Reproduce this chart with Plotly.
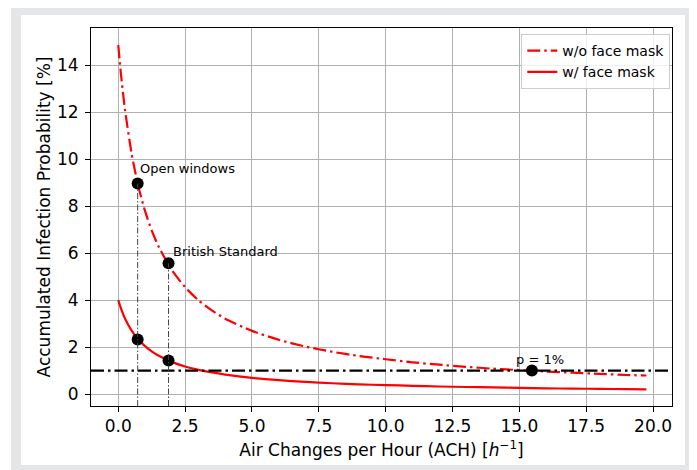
import plotly.graph_objects as go

# ---------------- data ----------------
ach = [0, 0.1, 0.25, 0.5, 0.75, 1, 1.25, 1.5, 2, 2.5, 3, 3.5, 4, 5, 6, 7, 8, 9,
       10, 11, 12, 13, 14, 15, 16, 17, 18, 19, 19.75]
p_without_mask = [14.86, 13.63, 12.12, 10.23, 8.85, 7.80, 6.97, 6.30, 5.28, 4.55, 3.99,
                  3.56, 3.21, 2.69, 2.31, 2.02, 1.80, 1.62, 1.48, 1.35, 1.25, 1.16,
                  1.08, 1.02, 0.96, 0.91, 0.86, 0.81, 0.79]
p_with_mask = [4.00, 3.65, 3.22, 2.70, 2.32, 2.04, 1.82, 1.64, 1.37, 1.17, 1.03, 0.92,
               0.83, 0.69, 0.59, 0.52, 0.46, 0.41, 0.38, 0.35, 0.32, 0.30, 0.28, 0.26,
               0.24, 0.23, 0.22, 0.21, 0.20]

scenario_names = ["Open windows", "British Standard"]
scenario_ach = [0.725, 1.88]
scenario_p_without = [8.97, 5.57]
scenario_p_with = [2.32, 1.43]

threshold_p = 1.0
threshold_ach = 15.47
threshold_label = "p = 1%"

x_ticks = [0, 2.5, 5, 7.5, 10, 12.5, 15, 17.5, 20]
y_ticks = [0, 2, 4, 6, 8, 10, 12, 14]
x_range = [-1.02, 20.71]
y_range = [-0.51, 15.59]

FONT = "DejaVu Sans"

fig = go.Figure()

# curves
fig.add_trace(go.Scatter(x=ach, y=p_without_mask, mode="lines", name="w/o face mask",
                         line=dict(color="red", width=2.2, dash="13px,4px,2.5px,4px",
                                   shape="spline", smoothing=0.6)))
fig.add_trace(go.Scatter(x=ach, y=p_with_mask, mode="lines", name="w/ face mask",
                         line=dict(color="red", width=2.2, shape="spline", smoothing=0.6)))

# threshold horizontal line (full width)
fig.add_shape(type="line", xref="paper", yref="y", x0=0, x1=1, y0=threshold_p, y1=threshold_p,
              line=dict(color="black", width=2.2, dash="13px,4px,2.5px,4px"), layer="above")

# vertical guide lines from the bottom axis to the upper points
for xa, ya in zip(scenario_ach, scenario_p_without):
    fig.add_shape(type="line", xref="x", yref="y", x0=xa, x1=xa, y0=y_range[0], y1=ya,
                  line=dict(color="#444444", width=1, dash="6px,2px,1.5px,2px"), layer="above")

# scenario points
fig.add_trace(go.Scatter(x=scenario_ach + scenario_ach + [threshold_ach],
                         y=scenario_p_without + scenario_p_with + [threshold_p],
                         mode="markers", showlegend=False,
                         marker=dict(color="black", size=12)))

# point labels
label_shifts = [(0, 15), (2, 12)]
for name, xa, ya, (dx, dy) in zip(scenario_names, scenario_ach, scenario_p_without, label_shifts):
    fig.add_annotation(x=xa, y=ya, xref="x", yref="y", text=name, showarrow=False,
                       xanchor="left", yanchor="middle", xshift=dx, yshift=dy,
                       font=dict(family=FONT, size=13, color="black"))
fig.add_annotation(x=threshold_ach, y=threshold_p, xref="x", yref="y", text=threshold_label,
                   showarrow=False, xanchor="left", yanchor="middle", xshift=-18, yshift=11,
                   font=dict(family=FONT, size=13, color="black"))

# grey frame around the figure
fig.add_shape(type="rect", xref="paper", yref="paper", x0=-0.1377, x1=1.08, y0=-0.25, y1=1.0582,
              fillcolor="#e5e6e8", line=dict(width=0), layer="below")
fig.add_shape(type="rect", xref="paper", yref="paper", x0=-0.1205, x1=1.0224, y0=-0.1561, y1=1.0344,
              fillcolor="white", line=dict(width=0), layer="below")

axis_common = dict(showline=True, mirror=True, linecolor="black", linewidth=1,
                   ticks="outside", ticklen=5, tickcolor="black", tickwidth=1,
                   showgrid=True, gridcolor="#b0b0b0", gridwidth=1, zeroline=False,
                   tickfont=dict(family=FONT, size=17, color="black"))

fig.update_xaxes(range=x_range, tickvals=x_ticks, tickformat=".1f",
                 title=dict(text="Air Changes per Hour (ACH) [<i>h</i><sup>−1</sup>]",
                            font=dict(family=FONT, size=17, color="black"), standoff=8),
                 **axis_common)
fig.update_yaxes(range=y_range, tickvals=y_ticks, ticklabelstandoff=3,
                 title=dict(text="Accumulated Infection Probability [%]",
                            font=dict(family=FONT, size=17, color="black"), standoff=2),
                 **axis_common)

# the page body adds an 8px offset, so margins are reduced by 8px on left/top
fig.update_layout(
    width=697, height=470,
    margin=dict(l=83, r=33, t=20, b=72, autoexpand=False),
    paper_bgcolor="white", plot_bgcolor="white",
    font=dict(family=FONT, color="black"),
    legend=dict(x=0.997, y=0.984, xanchor="right", yanchor="top",
                bgcolor="rgba(255,255,255,0.8)", bordercolor="#cccccc", borderwidth=1,
                font=dict(family=FONT, size=14, color="black"),
                tracegroupgap=0),
)

fig.write_html("out.html")
